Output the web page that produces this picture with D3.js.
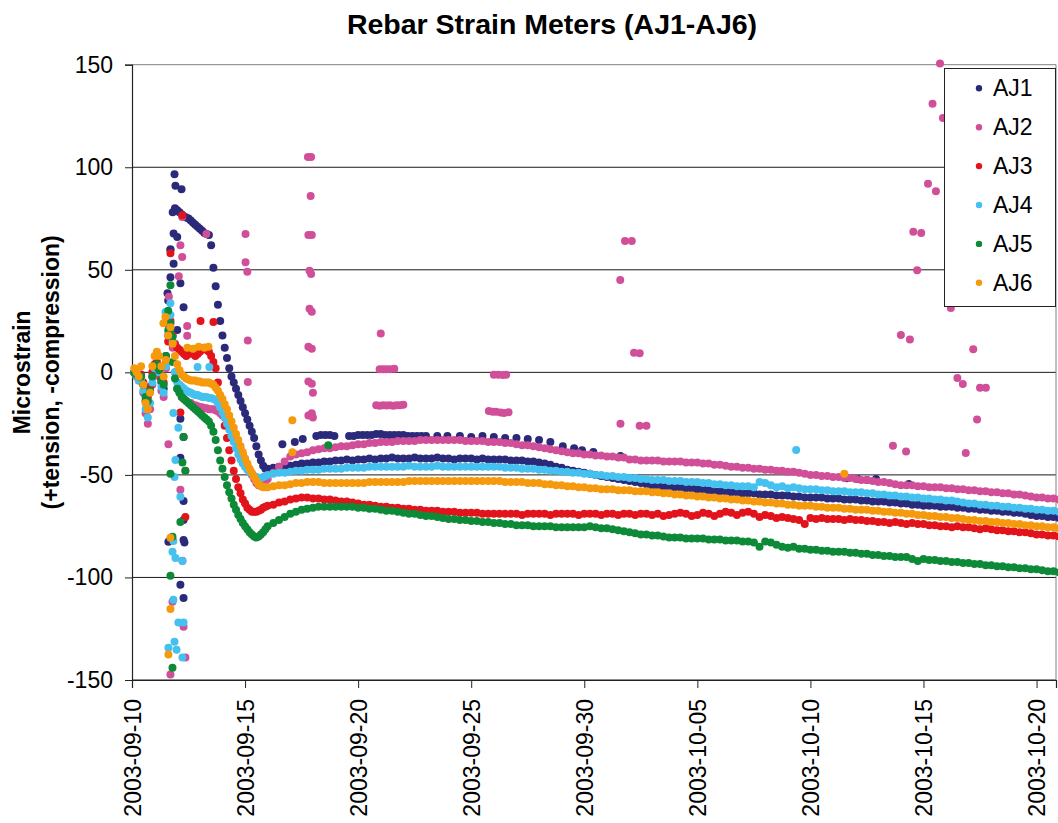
<!DOCTYPE html>
<html><head><meta charset="utf-8">
<script src="https://cdn.jsdelivr.net/npm/d3@7"></script>
<style>body{margin:0;background:#fff}svg{display:block}text{font-family:"Liberation Sans",Arial,sans-serif}</style>
</head><body>
<svg id="chart" width="1058" height="823"></svg>
<script>
// ---------- DATA (days since 2003-09-10 00:00, microstrain) ----------
const seriesNames = ["AJ1","AJ2","AJ3","AJ4","AJ5","AJ6"];
const yTicks = [-150,-100,-50,0,50,100,150];
const xTickLabels = ["2003-09-10","2003-09-15","2003-09-20","2003-09-25","2003-09-30","2003-10-05","2003-10-10","2003-10-15","2003-10-20"];
const axisMaxDay = 40.86;

// readings on a regular logging grid: early every 0.1 day from day 0.1, later every 0.25 day from day 6
const earlyStart = 0.1, earlyStep = 0.1;
const lateStart = 6.0, lateStep = 0.25;

const aj1Early = [0,-1,-3,-2,-6,-14,-16,-9,-2,3, 4,1,-5,-8,8,35,60,78,80,79, 78,77,76,75.5,75,74,73,72,71,70,
  69,68,67.5,67,62,51,42,33,25,18, 12,7,2,-2,-5,-8,-11,-14,-17,-20, -23,-26,-29,-32,-36,-40,-43,-45.5,-47];
const aj2Early = [0,-2,-4,-3,-10,-20,-25,-18,-6,2, 3,-2,-9,-12,2,18,22,12,0,-8, -10,-12,-13,-14,-15,-15,-16,-16,-16.5,-17,
  -17,-17.5,-17.5,-18,-18,-18,-18.5,-19,-20,-21, -22,-24,-26,-28,-30,-32.5,-35,-37.5,-40,-42.5, -45,-47.5,-50,-52,-54,-55,-55,-54,-53];
const aj3Early = [0,-1,-2,-1,-5,-10,-12,-7,0,4, 5,3,-3,-5,5,15,25,18,14,12, 11,10,9,8,9,10,9,8,9,10,
  11,12,11,10,8,5,2,-5,-12,-19, -26,-32,-38,-43,-48,-52,-56,-59,-62,-64, -66,-67,-68,-68,-68,-67.5,-67,-66,-65.5];
const aj4Early = [0,-2,-4,-3,-9,-18,-22,-15,-5,2, 3,0,-7,-10,3,20,28,15,0,-5, -6,-7,-8,-9,-9.5,-10,-10.5,-11,-11,-11.5,
  -12,-12,-12,-12.5,-12.5,-13,-13.5,-15,-17,-19.5, -22,-25,-28,-31,-34,-37,-40,-42.5,-44.5,-46, -47.5,-48.5,-49.5,-50.5,-51,-51.5,-51.5,-51,-50.5];
const aj5Early = [0,-1,-2,-2,-6,-12,-14,-9,-2,3, 4,1,-4,-6,8,30,20,5,-3,-8, -10,-12,-13,-14,-15,-16,-17,-18,-19,-20,
  -21,-22,-23,-24,-26,-29,-33,-38,-43,-47, -51,-55,-58.5,-61.5,-64.5,-67,-69.5,-71.5,-73.5,-75, -76.5,-78,-79,-80,-80.5,-80,-79,-78,-76.5];
const aj6Early = [2,0,-2,3,-6,-15,-18,-10,3,8, 10,8,3,-2,6,18,22,14,8,4, 1,-1,-2,-3,-3.5,-4,-4,-4,-4.5,-4.5,
  -5,-5,-5,-5,-5.5,-6,-7.5,-9,-11,-13, -15.5,-18,-21,-24,-27,-30,-33,-36,-39,-42, -44.5,-47,-49,-51,-53,-54.5,-55.5,-56,-56];

const aj1Late = [
 -47,-46.5,-46,-46, -45.5,-45,-44.5,-44.5, -44,-44,-43.5,-43.5, -43,-43,-42.5,-43, -42.5,-42.5,-42,-42.5,
 -42,-42,-41.5,-42, -42,-42,-41.5,-42, -42,-42,-41.5,-42, -42,-42.5,-42,-42, -42,-42.5,-42,-42.5,
 -42.5,-42.5,-42.5,-43, -43,-43,-43.5,-43.5, -44,-44.5,-45,-46, -46.5,-47.5,-48,-48.5, -49,-49.5,-50,-50.5,
 -51,-51.5,-52,-52.5, -53,-53.5,-54,-54.5, -55,-55,-55.5,-55.5, -56,-56,-56.5,-56.5, -57,-57,-57.5,-58,
 -58,-58,-58.5,-58.5, -59,-59,-59,-59.5, -59.5,-59.5,-60,-60, -60,-60.5,-60.5,-61, -61,-61,-61,-61.5,
 -61.5,-61.5,-62,-62, -62,-62.5,-62.5,-63, -63,-63,-63.5,-63.5, -64,-64,-64.5,-64.5, -65,-65,-65,-65.5,
 -65.5,-65.5,-66,-66, -66.5,-66.5,-67,-67, -67.5,-67.5,-68,-68, -68.5,-68.5,-69,-69.5, -70,-70,-70.5,-70.5, -71];
const aj2Late = [
 -52,-49,-46,-43.5, -41,-40,-39.5,-39, -38,-37.5,-37,-37, -36.5,-36,-36,-35.5, -35,-35,-34.5,-34.5,
 -34,-34,-34,-33.5, -33.5,-33.5,-33.5,-33, -33,-33,-33,-33, -33,-33,-33,-33.5, -33.5,-33.5,-33.5,-34,
 -34,-34,-34.5,-34.5, -35,-35.5,-35.5,-36, -36.5,-37,-37.5,-38, -38.5,-39,-39.5,-39.5, -40,-40,-40.5,-40.5,
 -41,-41,-41.5,-41.5, -42.5,-42.5,-43,-43, -43,-43,-43.5,-43.5, -43.5,-43.5,-44,-44, -44,-44.5,-44.5,-45,
 -45,-45.5,-46,-46, -46.5,-46.5,-47,-47, -47.5,-47.5,-48,-48, -48.5,-48.5,-49,-49.5, -50,-50,-50.5,-50.5,
 -51,-51,-51.5,-51.5, -52,-52.5,-52.5,-53, -53.5,-53.5,-54,-54.5, -55,-55,-55,-55.5, -55.5,-56,-56,-56,
 -56.5,-56.5,-57,-57, -57.5,-57.5,-58,-58, -58.5,-58.5,-59,-59, -59.5,-59.5,-60,-60.5, -61,-61,-61.5,-61.5, -62];
const aj3Late = [
 -65,-64.5,-63.5,-63, -62,-61.5,-61,-61, -61.5,-61.5,-62,-62, -62.5,-63,-63,-63.5, -64,-64.5,-64.5,-65,
 -65.5,-65.5,-66,-66, -66.5,-66.5,-67,-67, -67.5,-67.5,-67.5,-68, -68,-68,-68.5,-68.5, -68.5,-68.5,-69,-69,
 -69,-69,-69,-69, -69,-69.5,-69,-69, -69,-69,-69.5,-69, -69,-69,-69,-69.5, -69,-69,-69,-69.5,
 -69,-69,-69.5,-69, -69,-69.5,-69,-69, -69.5,-69,-70,-69.5, -69,-68.5,-69,-70, -69.5,-68.5,-69,-70,
 -69,-68,-68.5,-69.5, -68.5,-68,-69,-70.5, -69.5,-70,-71,-70.5, -71,-71.5,-72,-74, -71,-71.5,-71,-71.5,
 -71.5,-71.5,-72,-71.5, -72,-72,-72.5,-72.5, -73,-73,-73.5,-73, -73.5,-74,-73.5,-74, -74,-74.5,-74.5,-75,
 -75,-75.5,-75,-75.5, -75.5,-76,-76.5,-76, -76.5,-77,-77,-77.5, -77.5,-78,-78,-78.5, -79,-79,-79.5,-79.5, -80];
const aj4Late = [
 -50,-49.5,-49,-49, -48.5,-48,-48,-47.5, -47.5,-47.5,-47,-47, -47,-47,-46.5,-46.5, -46.5,-46.5,-46,-46,
 -46,-46,-46,-46, -46,-45.5,-46,-46, -46,-46,-45.5,-46, -46,-46,-46,-46, -46,-46,-46,-46,
 -46,-46,-46.5,-46.5, -46.5,-47,-47,-47, -47.5,-47.5,-48,-48, -48.5,-48.5,-49,-49, -49.5,-49.5,-50,-50,
 -50.5,-50.5,-51,-51, -51.5,-51.5,-52,-52, -52.5,-52.5,-52.5,-53, -53,-53,-53.5,-53.5, -53.5,-54,-54,-54.5,
 -54.5,-55,-55,-55.5, -55.5,-55.5,-56,-53.5, -54,-55,-56,-55.5, -56.5,-56,-56.5,-57, -57,-57,-57.5,-57.5,
 -58,-58,-58,-58.5, -58.5,-58.5,-59,-59, -59.5,-59.5,-60,-60, -60.5,-60.5,-61,-61, -61.5,-61.5,-62,-62,
 -62.5,-62.5,-63,-63.5, -64,-64,-64.5,-64.5, -65,-65,-65.5,-65.5, -66,-66,-66.5,-66.5, -67,-67,-67.5,-67.5, -68];
const aj5Late = [
 -75,-73.5,-72,-70.5, -69,-68,-67,-66.5, -66,-65.5,-65.5,-65.5, -65.5,-65.5,-65.5,-65.5, -66,-66,-66.5,-66.5,
 -67,-67.5,-67.5,-68, -68.5,-69,-69,-69.5, -70,-70,-70.5,-71, -71.5,-71.5,-72,-72, -72.5,-72.5,-73,-73,
 -73.5,-73.5,-74,-74, -74.5,-74.5,-74.5,-75, -75,-75,-75,-75.5, -75.5,-75.5,-75.5,-75.5, -75.5,-75,-75.5,-76,
 -76,-76.5,-77,-77.5, -78,-78.5,-79,-79, -79.5,-79.5,-80,-80.5, -80.5,-80.5,-81,-81, -81,-81,-81.5,-81.5,
 -81.5,-82,-82,-82, -82.5,-82.5,-83,-85, -82.5,-83,-84,-85, -85.5,-85,-86,-86, -86.5,-86.5,-87,-87,
 -87.5,-87.5,-87.5,-88, -88,-88.5,-88.5,-89, -89,-89.5,-89.5,-90, -90,-90,-91,-92, -91,-91.5,-91.5,-92,
 -92,-92.5,-92.5,-93, -93,-93.5,-93.5,-94, -94,-94.5,-94.5,-95, -95,-95.5,-95.5,-96, -96,-96.5,-97,-97, -97.5];
const aj6Late = [
 -56,-55.5,-55,-55, -54.5,-54,-54,-53.5, -53.5,-53.5,-54,-54, -54,-54,-54,-54, -54,-54,-53.5,-53.5,
 -53.5,-53.5,-53.5,-53.5, -53.5,-53,-53,-53, -53,-53,-53,-53, -53,-53,-53,-53, -53,-53,-53,-53,
 -53,-53,-53.5,-53.5, -53.5,-53.5,-54,-54, -54,-54.5,-54.5,-55, -55,-55.5,-55.5,-56, -56,-56.5,-56.5,-57,
 -57,-57,-57.5,-57.5, -57.5,-58,-58,-58, -58.5,-58.5,-59,-59, -59.5,-59.5,-60,-60, -60.5,-60.5,-61,-61,
 -61.5,-61.5,-62,-62, -62.5,-62.5,-63,-63, -63.5,-63.5,-64,-64, -64.5,-64.5,-65,-65, -65,-65.5,-65.5,-66,
 -66,-66,-66.5,-66.5, -67,-67,-67,-67.5, -67.5,-68,-68,-68.5, -68.5,-69,-69,-69.5, -69.5,-70,-70,-70.5,
 -70.5,-71,-71,-71.5, -72,-72,-72.5,-72.5, -73,-73,-73.5,-73.5, -74,-74,-74.5,-74.5, -75,-75,-75.5,-75.5, -76];

// isolated readings [day, microstrain]
const aj1Extra = [[1.88,96.6],[1.92,91],[2.19,89.3],[1.84,67.7],[2.0,66],[1.7,59.6],[1.84,53],[1.7,46.4],[2.14,43.5],
 [1.57,38.6],[2.28,31.8],[1.57,24],[2.0,20.6],[2.14,-22.6],[2.28,-31.5],[2.14,-41.6],[2.28,-62.7],[2.28,-72],
 [1.61,-82.6],[2.28,-81.7],[2.32,-83],[2.14,-103.6],[2.28,-110],
 [6.65,-35],[7.2,-34],[7.55,-32.5],[8.15,-31],[8.35,-30.5],[8.55,-30.5],[8.75,-30.5],[8.95,-31],[9.6,-31],[9.8,-31],
 [10.0,-30.5],[10.2,-30.5],[10.4,-30.5],[10.6,-30.5],[10.8,-30],[11.0,-30],[11.2,-30.5],[11.4,-30.5],[11.6,-30.5],
 [11.8,-30.5],[12.0,-30.5],[12.2,-31],[12.4,-31],[12.6,-31],[12.8,-31],[13.0,-31],[13.5,-31],[13.95,-31],
 [14.5,-31],[15,-31.5],[15.5,-31],[16,-31.5],[16.5,-32],[17,-32],[17.5,-32.5],[18,-33],[18.5,-34],[19.05,-36],
 [19.55,-37],[19.9,-38],[20.4,-38.8],[21.6,-40.8],[31.6,-51.6],[32.1,-52],[32.5,-52.5],[32.9,-52],[34.35,-54.4]];
const aj2Extra = [[2.22,75.8],[2.14,62],[2.22,56.3],[2.07,46.9],[1.63,36.8],[2.44,22.6],[2.44,17.8],[3.29,67.4],
 [1.61,-35],[2.36,-48],[2.14,-57.3],[2.23,-91.9],[1.79,-111.9],[2.28,-124],[2.36,-139],[1.7,-147.3],
 [5.02,67.4],[5.02,53.7],[5.1,49],[5.12,15.5],[5.12,-4.7],
 [7.78,105],[7.92,105],[7.9,86],[7.8,67],[7.95,67],[7.85,49.5],[7.92,48],[7.85,31],[7.95,29.5],[7.8,12.5],[7.95,11.5],
 [7.8,-4.5],[7.95,-5.5],[8.0,-10],[7.8,-21],[7.95,-20],[8.0,-22],
 [11.0,19],[10.95,1.5],[11.1,1.5],[11.25,1.5],[11.4,1.5],[11.6,1.8],
 [10.8,-16],[10.95,-16.3],[11.1,-16],[11.25,-16.2],[11.4,-16],[11.55,-16.3],[11.7,-16],[11.85,-16.1],[12.0,-15.8],
 [16.0,-1.2],[16.2,-1.2],[16.4,-1.3],[16.55,-1.2],[15.78,-18.8],[15.95,-19.2],[16.1,-19.2],[16.3,-19.6],[16.45,-19.8],[16.65,-19.4],
 [21.59,45],[21.8,64],[22.1,64],[22.2,9.5],[22.45,9.3],[21.6,-25],[22.45,-26],[22.75,-26],
 [35.73,150.6],[35.4,131],[35.86,124],[35.2,92],[35.55,88.3],[34.55,68.5],[34.9,68],[34.72,49.8],[36.21,31.4],
 [34.0,18.2],[34.4,16],[37.2,11.3],[36.5,-2.8],[36.74,-5.7],[37.5,-7.5],[37.76,-7.5],[37.37,-23],
 [33.65,-35.8],[34.23,-38.6],[36.87,-39.3]];
const aj3Extra = [[2.23,76.6],[1.7,58.1],[3.03,25],[3.6,24.5],[2.14,-19.6],[2.36,-70.5]];
const aj4Extra = [[1.7,33.7],[1.48,29.4],[2.9,2.6],[3.42,2.6],[1.83,-19.8],[2.05,-27],[1.92,-42.7],[1.88,-51],[2.14,-60.7],
 [1.83,-82.2],[1.79,-87.5],[1.92,-90.5],[2.23,-92],[1.83,-110.9],[2.05,-122],[2.28,-122],[1.88,-131.4],[1.61,-134.3],
 [1.97,-135.3],[2.23,-139],[29.37,-37.8]];
const aj5Extra = [[1.7,42.5],[1.7,24],[1.61,20.6],[1.79,17.2],[2.28,-31.5],[2.23,-44],[2.36,-48],[1.7,-49.5],[2.14,-73],
 [1.79,-80.2],[1.7,-99.2],[1.79,-144],[8.68,-35.6]];
const aj6Extra = [[1.48,27],[1.39,24],[1.7,-80.7],[1.7,-115.4],[1.61,-137.6],[2.45,12],[2.7,11.5],[2.95,12.5],[3.2,12],
 [3.38,12.5],[7.09,-23.3],[7.09,-39],[31.5,-49.5]];

const seriesColors = ["#2b2a7a","#d14f98","#e3131b","#45c1ef","#0d8a37","#f59a0c"];

// ---------- CHART ----------
const svg = d3.select("#chart");
const plot = {left:132, right:1056, top:64.7, bottom:680};
const t0 = Date.UTC(2003,8,10), DAY = 86400000;
const toDate = d => new Date(t0 + d*DAY);
const x = d3.scaleUtc().domain([toDate(0), toDate(axisMaxDay)]).range([plot.left, plot.right]);
const y = d3.scaleLinear().domain([-150,150]).range([plot.bottom, plot.top]);

// gridlines
svg.append("g").selectAll("line").data(yTicks).join("line")
  .attr("x1", plot.left).attr("x2", plot.right)
  .attr("y1", d=>y(d)).attr("y2", d=>y(d))
  .attr("stroke", d=> d===150 ? "#808080" : "#1a1a1a").attr("stroke-width", 1);
// right border
svg.append("line").attr("x1",plot.right).attr("x2",plot.right).attr("y1",plot.top).attr("y2",plot.bottom)
  .attr("stroke","#808080").attr("stroke-width",1);

// y axis
const yAxis = d3.axisLeft(y).tickValues(yTicks).tickSize(7).tickPadding(12).tickFormat(d3.format("d"));
const gy = svg.append("g").attr("transform",`translate(${plot.left},0)`).call(yAxis);
gy.select(".domain").attr("stroke","#222").attr("stroke-width",1.2);
gy.selectAll(".tick line").attr("stroke","#222");
gy.selectAll("text").attr("font-size",23).attr("fill","#000").attr("font-family","Liberation Sans, Arial, sans-serif").text(d=> d<0 ? "-"+Math.abs(d) : d);

// x axis
const xTickDates = xTickLabels.map(s => new Date(s+"T00:00:00Z"));
const xAxis = d3.axisBottom(x).tickValues(xTickDates).tickSize(8).tickFormat((d,i)=>xTickLabels[i]);
const gx = svg.append("g").attr("transform",`translate(0,${plot.bottom})`).call(xAxis);
gx.select(".domain").attr("stroke","#222").attr("stroke-width",1.2);
gx.selectAll(".tick line").attr("stroke","#222");
gx.selectAll("text").attr("font-size",23).attr("fill","#000").attr("font-family","Liberation Sans, Arial, sans-serif")
  .attr("text-anchor","end").attr("transform","rotate(-90)").attr("x",-19).attr("y",0).attr("dy","0.35em");

// points
const allSeries = [
  {early:aj1Early, late:aj1Late, extra:aj1Extra},
  {early:aj2Early, late:aj2Late, extra:aj2Extra},
  {early:aj3Early, late:aj3Late, extra:aj3Extra},
  {early:aj4Early, late:aj4Late, extra:aj4Extra},
  {early:aj5Early, late:aj5Late, extra:aj5Extra},
  {early:aj6Early, late:aj6Late, extra:aj6Extra}
];
allSeries.forEach((s,si)=>{
  const pts = [];
  s.early.forEach((v,i)=>pts.push([earlyStart + i*earlyStep, v]));
  s.late.forEach((v,i)=>pts.push([lateStart + i*lateStep, v]));
  s.extra.forEach(p=>pts.push(p));
  svg.append("g").selectAll("circle").data(pts).join("circle")
    .attr("cx", d=>x(toDate(d[0]))).attr("cy", d=>y(d[1])).attr("r",4)
    .attr("fill", seriesColors[si]);
});

// title
svg.append("text").attr("x",552).attr("y",34).attr("text-anchor","middle")
  .attr("font-size",28.5).attr("font-weight","bold").text("Rebar Strain Meters (AJ1-AJ6)");

// y axis title
const yt = svg.append("text").attr("transform",`translate(0,${(plot.top+plot.bottom)/2}) rotate(-90)`)
  .attr("text-anchor","middle").attr("font-size",23).attr("font-weight","bold");
yt.append("tspan").attr("x",0).attr("y",30).text("Microstrain");
yt.append("tspan").attr("x",0).attr("y",59).text("(+tension, -compression)");

// legend
const lg = svg.append("g");
lg.append("rect").attr("x",944.5).attr("y",68.5).attr("width",111).attr("height",238)
  .attr("fill","#fff").attr("stroke","#222").attr("stroke-width",1);
seriesNames.forEach((n,i)=>{
  const cy = 88.3 + i*38.9;
  lg.append("circle").attr("cx",979).attr("cy",cy).attr("r",3.2).attr("fill",seriesColors[i]);
  lg.append("text").attr("x",993).attr("y",cy).attr("dy","0.35em").attr("font-size",23).text(n);
});
</script>
</body></html>
